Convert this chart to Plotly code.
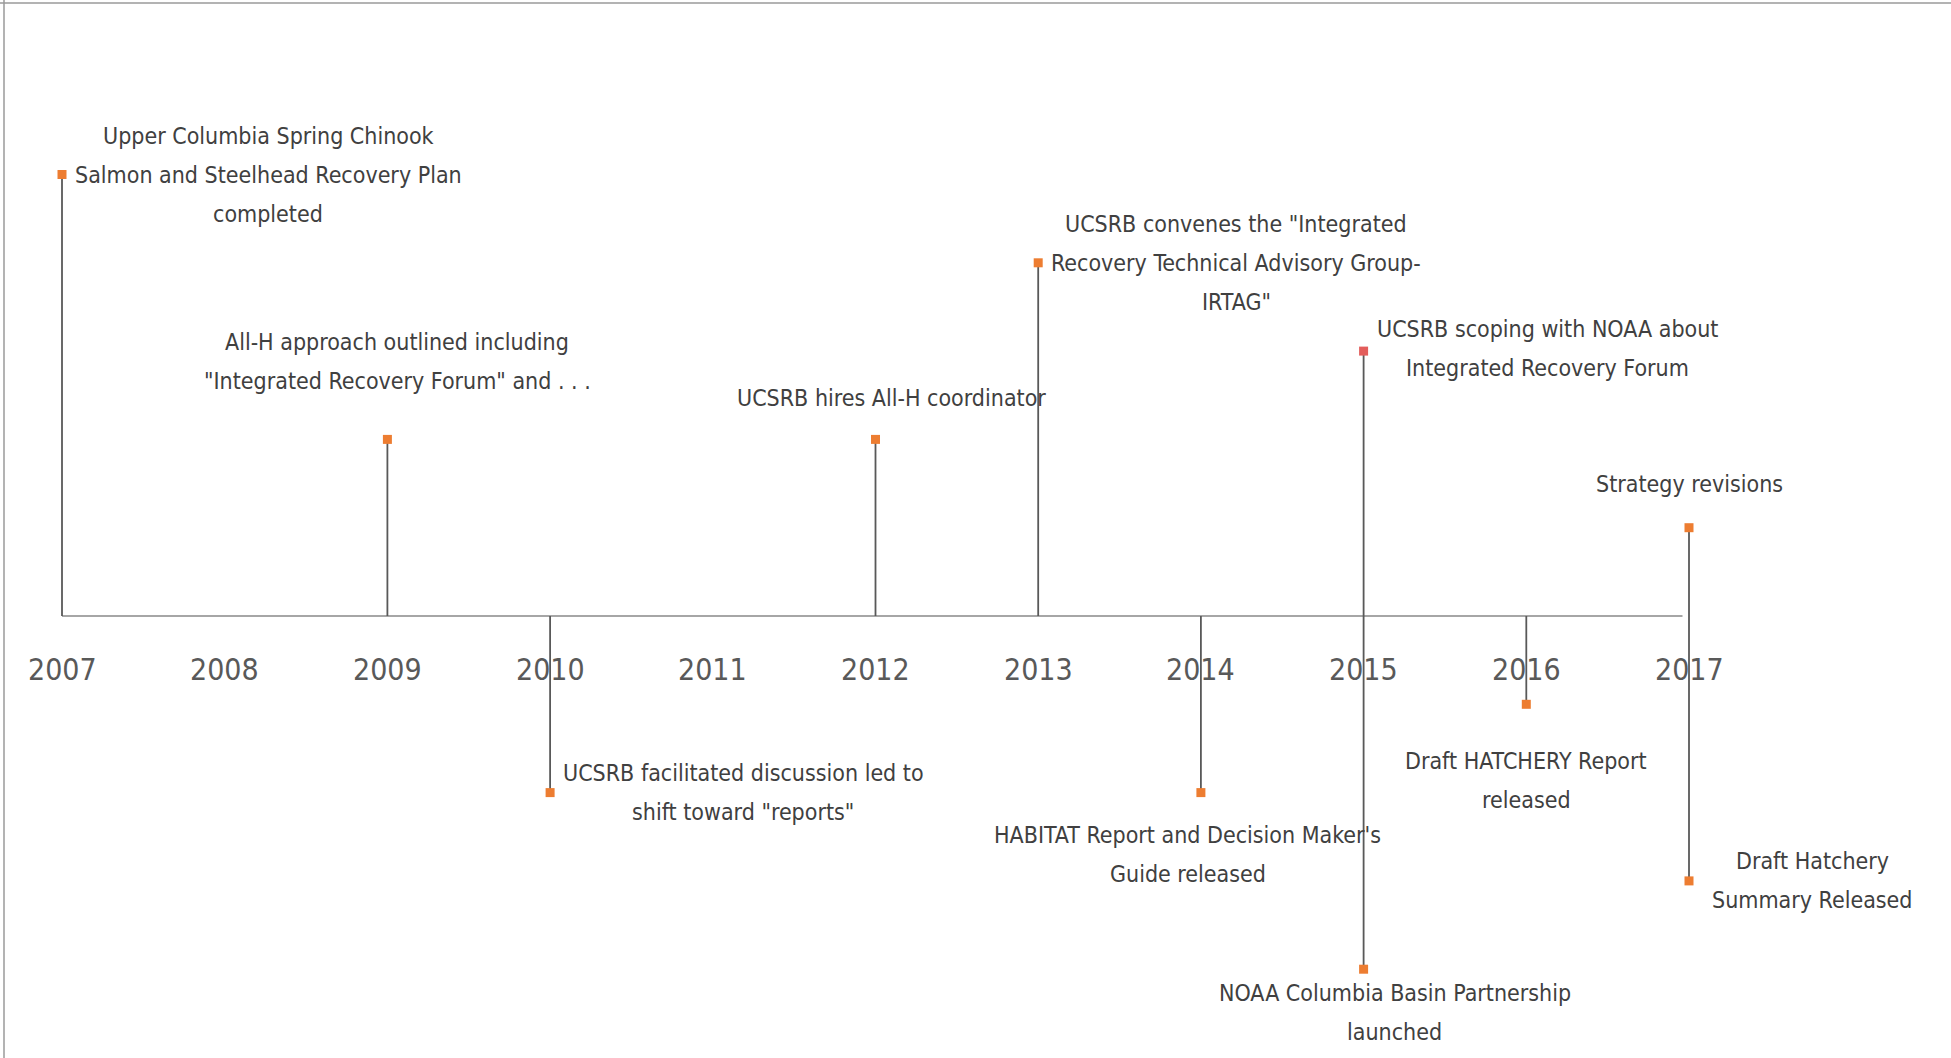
import plotly.graph_objects as go

# ---------------- data ----------------
years = [2007, 2008, 2009, 2010, 2011, 2012, 2013, 2014, 2015, 2016, 2017]
event_years = [2007, 2009, 2010, 2012, 2013, 2014, 2015, 2015, 2016, 2017, 2017]
event_heights = [5, 2, -2, 2, 4, -2, 3, -4, -1, 1, -3]
event_labels = [
    "Upper Columbia Spring Chinook<br>Salmon and Steelhead Recovery Plan<br>completed",
    "All-H approach outlined including<br>\"Integrated Recovery Forum\" and . . .",
    "UCSRB facilitated discussion led to<br>shift toward \"reports\"",
    "UCSRB hires All-H coordinator",
    "UCSRB convenes the \"Integrated<br>Recovery Technical Advisory Group-<br>IRTAG\"",
    "HABITAT Report and Decision Maker's<br>Guide released",
    "UCSRB scoping with NOAA about<br>Integrated Recovery Forum",
    "NOAA Columbia Basin Partnership<br>launched",
    "Draft HATCHERY Report<br>released",
    "Strategy revisions",
    "Draft Hatchery<br>Summary Released",
]

# ---------------- style ----------------
label_xshift = [206, 10, 193, 16, 198, -13, 184, 31, 0, 0, 123]
label_yshift = [0, 78, 0, 41, 0, -62, 3, -43, -76, 44, 0]
LINE_GAP = 39
marker_colors = ["#ED7D31"] * 11
marker_colors[6] = "#E35D5B"

FONT = "Liberation Sans Narrow, DejaVu Sans Condensed, Arial Narrow, sans-serif"
W, H = 1951, 1058

fig = go.Figure()

# stems
sx, sy = [], []
for yr, h in zip(event_years, event_heights):
    sx += [yr, yr, None]
    sy += [0, h, None]
fig.add_trace(go.Scatter(x=sx, y=sy, mode="lines",
                         line=dict(color="#595959", width=1.8),
                         hoverinfo="skip", showlegend=False))

# markers
fig.add_trace(go.Scatter(x=event_years, y=event_heights, mode="markers",
                         marker=dict(symbol="square", size=9, color=marker_colors,
                                     line=dict(width=0)),
                         showlegend=False))

# horizontal axis line
fig.add_shape(type="line", x0=years[0], x1=years[-1] - 0.04, y0=0, y1=0,
              xref="x", yref="y", line=dict(color="#A6A6A6", width=2), layer="below")

annotations = []
for yr in years:
    annotations.append(dict(x=yr, y=0, xref="x", yref="y", text=str(yr),
                            showarrow=False, yshift=-53, xanchor="center", yanchor="middle",
                            font=dict(family=FONT, size=30, color="#595959")))
for yr, h, t, dx, dy in zip(event_years, event_heights, event_labels, label_xshift, label_yshift):
    lines = t.split("<br>")
    n = len(lines)
    for i, ln in enumerate(lines):
        off = (i - (n - 1) / 2) * LINE_GAP
        annotations.append(dict(x=yr, y=h, xref="x", yref="y", text=ln, showarrow=False,
                                xshift=dx, yshift=dy - off, xanchor="center", yanchor="middle",
                                align="center",
                                font=dict(family=FONT, size=23, color="#404040")))

# frame (top and left edges)
shapes_frame = [
    dict(type="line", xref="paper", yref="paper", x0=0, x1=1, y0=1 - 3 / H, y1=1 - 3 / H,
         line=dict(color="#9A9A9A", width=1.5)),
    dict(type="line", xref="paper", yref="paper", x0=4 / W, x1=4 / W, y0=0, y1=1,
         line=dict(color="#9A9A9A", width=1.5)),
]
for s in shapes_frame:
    fig.add_shape(**s)

px_per_year = 162.7
px_per_unit = 88.3
x0px, axis_px = 62, 616
fig.update_layout(
    width=W, height=H, autosize=False,
    margin=dict(l=0, r=0, t=0, b=0),
    paper_bgcolor="white", plot_bgcolor="white",
    xaxis=dict(range=[years[0] - x0px / px_per_year, years[0] + (W - x0px) / px_per_year],
               visible=False, fixedrange=True),
    yaxis=dict(range=[-(H - axis_px) / px_per_unit, axis_px / px_per_unit],
               visible=False, fixedrange=True),
    annotations=annotations,
    showlegend=False,
)

fig.write_html("out.html", config={"displayModeBar": False},
               post_script="document.body.style.margin='0';")
